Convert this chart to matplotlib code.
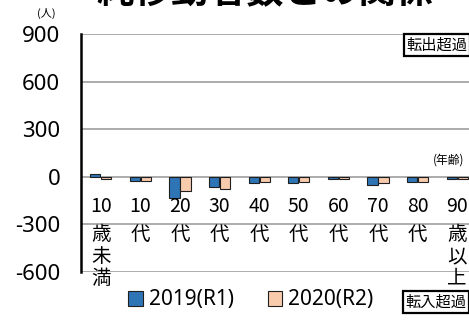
import matplotlib
matplotlib.use('Agg')
import matplotlib.pyplot as plt
from matplotlib.patches import Patch
import numpy as np

plt.rcParams['font.family'] = ['Noto Sans CJK JP', 'DejaVu Sans']

# ── data ──────────────────────────────────────────────────────────────
AGE_TOP = ['10', '10', '20', '30', '40', '50', '60', '70', '80', '90']
AGE_BOTTOM = ['歳未満', '代', '代', '代', '代', '代', '代', '代', '代', '歳以上']
VAL_2019 = [20, -27, -134, -65, -38, -36, -15, -50, -34, -13]
VAL_2020 = [-15, -25, -88, -78, -31, -31, -15, -36, -34, -12]
Y_TICKS = [-600, -300, 0, 300, 600, 900]
SERIES = ['2019(R1)', '2020(R2)']
COLORS = ['#2E75B6', '#F8CBAD']

W, H = 469, 320
fig = plt.figure(figsize=(W / 100, H / 100), dpi=100)
# plot area runs past the right edge of the picture (reference is cropped)
ax = fig.add_axes([81 / W, 1 - 272 / H, 396 / W, 238 / H])

x = np.arange(len(AGE_TOP))
bw = 0.26
ax.bar(x - 0.14, VAL_2019, bw, color=COLORS[0], edgecolor='#1f1f1f', linewidth=0.8, zorder=3)
ax.bar(x + 0.14, VAL_2020, bw, color=COLORS[1], edgecolor='#1f1f1f', linewidth=0.8, zorder=3)

ax.set_xlim(-0.5, len(AGE_TOP) - 0.5)
ax.set_ylim(-600, 900)
ax.set_yticks(Y_TICKS)
ax.set_yticklabels([str(v) for v in Y_TICKS], fontsize=16, family=['Noto Sans', 'DejaVu Sans'])
ax.tick_params(axis='y', length=0, pad=15)
ax.set_xticks([])
ax.grid(True, axis='y', color='#a6a6a6', linewidth=1.3, zorder=0)
for s in ['top', 'right', 'bottom']:
    ax.spines[s].set_visible(False)
ax.spines['left'].set_linewidth(1.8)
ax.spines['left'].set_color('black')

# category labels, written vertically under the zero line
for i, (top, rest) in enumerate(zip(AGE_TOP, AGE_BOTTOM)):
    ax.text(i, -189, top, ha='center', va='center', fontsize=14, zorder=4)
    for j, ch in enumerate(rest):
        ax.text(i, -365 - j * 137, ch, ha='center', va='center', fontsize=14,
                zorder=4, clip_on=False)

fig.text(46 / W, 1 - 13 / H, '(人)', ha='center', va='center', fontsize=8)
fig.text(449 / W, 1 - 160 / H, '(年齢)', ha='center', va='center', fontsize=8.5)

box = dict(boxstyle='square,pad=0.15', facecolor='white', edgecolor='black', linewidth=1.6)
fig.text(437 / W, 1 - 45 / H, '転出超過', ha='center', va='center', fontsize=11, bbox=box)
fig.text(436 / W, 1 - 302 / H, '転入超過', ha='center', va='center', fontsize=11, bbox=box)

# title, mostly above the top edge of the picture
fig.text(265 / W, 1 - 3 / H, '純移動者数との関係', ha='center', va='baseline',
         fontsize=27, fontweight='bold')

handles = [Patch(facecolor=c, edgecolor='#1f1f1f', linewidth=0.8) for c in COLORS]
fig.legend(handles, SERIES, loc='center', bbox_to_anchor=(251 / W, 1 - 300 / H),
           ncol=2, frameon=False, handlelength=0.7, handleheight=0.7,
           handletextpad=0.3, columnspacing=1.6,
           prop={'family': ['Noto Sans', 'DejaVu Sans'], 'size': 15})

fig.savefig('out.png', dpi=100, facecolor='white')
